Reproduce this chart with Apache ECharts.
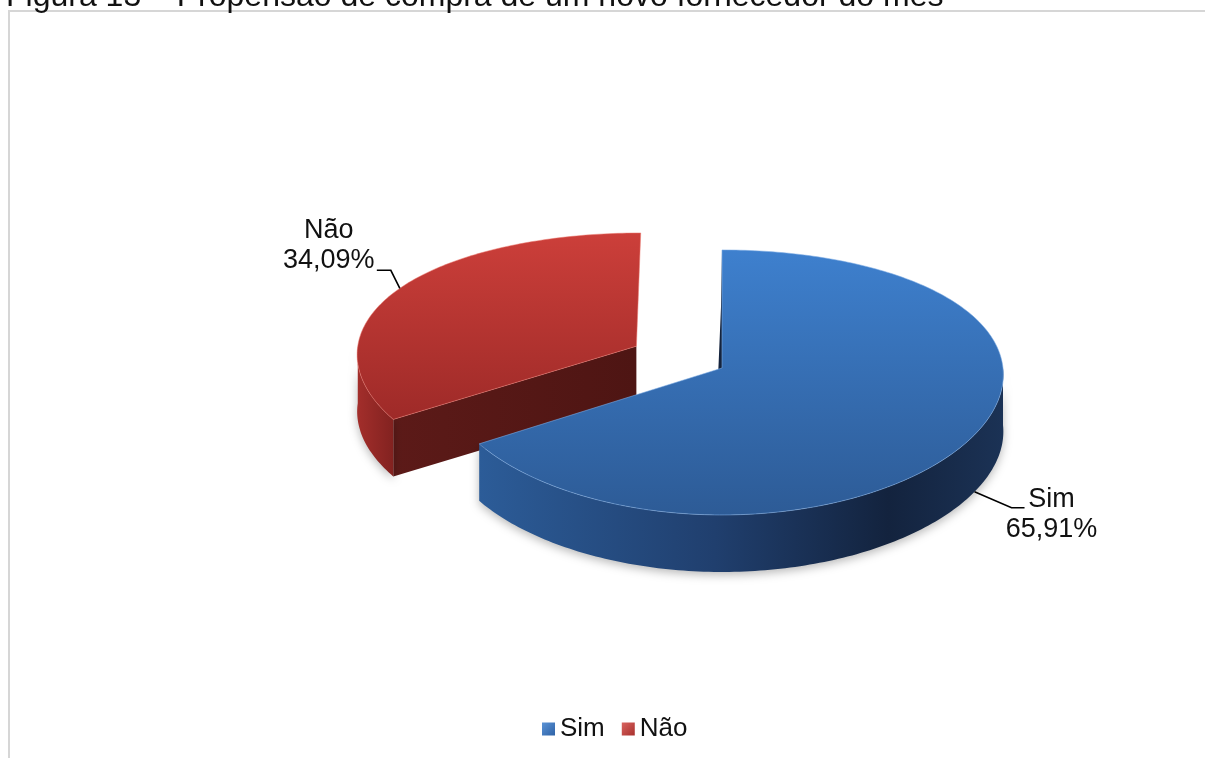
<!DOCTYPE html>
<html>
<head>
<meta charset="utf-8">
<title>Propensão de compra de um novo fornecedor do mês</title>
<script src="https://cdn.jsdelivr.net/npm/echarts@6/dist/echarts.min.js"></script>
<style>
  html, body { margin: 0; padding: 0; background: #ffffff; }
  #chart { width: 1205px; height: 758px; }
</style>
</head>
<body>
<div id="chart"></div>
<script>
// ---- data ----
const categories = ['Sim', 'Não'];
const values = [65.91, 34.09];
const titleText = 'Figura 13 – Propensão de compra de um novo fornecedor do mês';

// ---- look of the 3D pie ----
const FONT = '"Liberation Sans", Arial, sans-serif';
const PIE = {
  camX: 722, camY: 368,   // screen point under the pie axis
  rx: 281, ry: 132.5,     // radii of the top ellipse
  e: 0.109, px: 0.05,     // perspective strength (depth / width)
  h: 57                   // thickness of the disc
};
const explodeBy = { 'Não': 0.35 };
const palette = {
  'Sim': {
    top: ['#3E80CE', '#2D5B96'],
    outer: [[0, '#2C5C98'], [0.45, '#203F6E'], [0.78, '#13233E'], [1, '#1B3255']],
    radial: ['#1E3B66', '#172E52'],
    rim: 'rgba(130,175,230,0.55)',
    legend: ['#5B93D6', '#2E62A6']
  },
  'Não': {
    top: ['#CC3F3A', '#9E2A28'],
    outer: [[0, '#A32E2B'], [1, '#822220']],
    radial: ['#5C1A18', '#4E1513'],
    rim: 'rgba(235,120,110,0.5)',
    legend: ['#D96460', '#A8302D']
  }
};

const total = values.reduce((s, v) => s + v, 0);

function fmtPct(v) {
  return (v / total * 100).toFixed(2).replace('.', ',') + '%';
}

// world (X, Z in radius units, Z toward viewer) -> screen
function proj(X, Z, down) {
  return [
    PIE.camX + PIE.rx * X * (1 + PIE.px * Z),
    PIE.camY + PIE.ry * Z * (1 + PIE.e * Z) + (down ? PIE.h : 0)
  ];
}

function makeRender(idx) {
  return function (params, api) {
    const name = categories[idx];
    const col = palette[name];
    let before = 0;
    for (let k = 0; k < idx; k++) before += values[k];
    const v = api.value(0);
    const a0 = before / total * Math.PI * 2;
    const a1 = (before + v) / total * Math.PI * 2;
    const mid = (a0 + a1) / 2;
    const k = explodeBy[name] || 0;
    const offX = k * Math.sin(mid), offZ = -k * Math.cos(mid);

    const rimPt = (t, down) => proj(offX + Math.sin(t), offZ - Math.cos(t), down);
    const apex = (down) => proj(offX, offZ, down);
    const arc = (t0, t1, down) => {
      const n = Math.max(2, Math.ceil(Math.abs(t1 - t0) / (Math.PI / 180)));
      const pts = [];
      for (let j = 0; j <= n; j++) pts.push(rimPt(t0 + (t1 - t0) * j / n, down));
      return pts;
    };
    const grad = (x2, y2, stops) => new echarts.graphic.LinearGradient(0, 0, x2, y2, stops);

    const children = [];

    // radial side walls that face the viewer
    const radialWall = (t) => ({
      type: 'polygon',
      shape: { points: [apex(false), rimPt(t, false), rimPt(t, true), apex(true)] },
      style: { fill: grad(1, 0, [{ offset: 0, color: col.radial[0] }, { offset: 1, color: col.radial[1] }]) }
    });
    if (Math.sin(a0) < -1e-6) children.push(radialWall(a0));
    if (Math.sin(a1) > 1e-6) children.push(radialWall(a1));

    // the cut wall at 12 o'clock is seen almost edge-on: a thin dark strip
    if (Math.abs(Math.sin(a0)) < 1e-6 && Math.cos(a0) > 0) {
      const p = apex(false), q = rimPt(a0, false);
      children.push({
        type: 'polygon',
        shape: { points: [p, q, [q[0] - 1, q[1] + PIE.h], [p[0] - 6, p[1] + PIE.h]] },
        style: { fill: '#14233D' }
      });
    }

    // curved outer wall (front half only)
    const t0 = Math.max(a0, Math.PI / 2), t1 = Math.min(a1, Math.PI * 1.5);
    if (t1 > t0) {
      const pts = arc(t0, t1, false).concat(arc(t1, t0, true));
      children.push({
        type: 'polygon',
        shape: { points: pts },
        style: {
          fill: grad(1, 0, col.outer.map(s => ({ offset: s[0], color: s[1] }))),
          shadowBlur: 10, shadowColor: 'rgba(0,0,0,0.28)', shadowOffsetY: 3
        }
      });
    }

    // top face
    children.push({
      type: 'polygon',
      shape: { points: [apex(false)].concat(arc(a0, a1, false)) },
      style: {
        fill: grad(0, 1, [{ offset: 0, color: col.top[0] }, { offset: 1, color: col.top[1] }]),
        stroke: col.rim, lineWidth: 1
      }
    });

    // leader line and data label
    const front = Math.cos(mid) < 0;
    const anchor = rimPt(mid, front);
    const right = Math.sin(mid) >= 0;
    let elbow, end, tx, ty1, ty2;
    if (right) {
      elbow = [anchor[0] + 37, anchor[1] + 16];
      end = [elbow[0] + 13, elbow[1]];
      tx = end[0] + 27; ty1 = end[1] - 8; ty2 = end[1] + 22;
    } else {
      elbow = [anchor[0] - 9, anchor[1] - 18];
      end = [elbow[0] - 14, elbow[1]];
      tx = end[0] - 48; ty1 = end[1] - 40; ty2 = end[1] - 10;
    }
    children.push({
      type: 'polyline',
      shape: { points: [anchor, elbow, end] },
      style: { stroke: '#000', lineWidth: 1.6, fill: null }
    });
    [[name, ty1], [fmtPct(v), ty2]].forEach(([txt, y]) => {
      children.push({
        type: 'text',
        style: {
          text: txt, x: tx, y: y, fill: '#111',
          fontSize: 27, fontFamily: FONT,
          align: 'center', verticalAlign: 'middle'
        }
      });
    });

    return { type: 'group', children: children };
  };
}

const chart = echarts.init(document.getElementById('chart'), null, { renderer: 'canvas' });

const series = categories.map((name, i) => ({
  type: 'custom',
  name: name,
  coordinateSystem: 'none',
  z: i === 0 ? 3 : 2,           // the front slice is painted last
  itemStyle: {
    color: new echarts.graphic.LinearGradient(0, 0, 1, 1, [
      { offset: 0, color: palette[name].legend[0] },
      { offset: 1, color: palette[name].legend[1] }
    ])
  },
  renderItem: makeRender(i),
  data: [[values[i]]],
  silent: true,
  animation: false
}));

chart.setOption({
  backgroundColor: '#ffffff',
  animation: false,
  graphic: [
    {
      type: 'rect',
      shape: { x: 9, y: 11, width: 1400, height: 1000 },
      style: { fill: null, stroke: '#D6D6D6', lineWidth: 2 },
      z: 0
    },
    {
      type: 'text',
      x: 6, y: 13,
      style: {
        text: titleText, fill: '#111',
        fontSize: 32, fontFamily: FONT,
        verticalAlign: 'bottom'
      },
      z: 10
    }
  ],
  legend: {
    data: categories,
    left: 537, top: 711,
    icon: 'rect', itemWidth: 13, itemHeight: 13,
    itemGap: 17,
    textStyle: { fontSize: 26, color: '#111', fontFamily: FONT },
    selectedMode: false
  },
  series: series
});
</script>
</body>
</html>
